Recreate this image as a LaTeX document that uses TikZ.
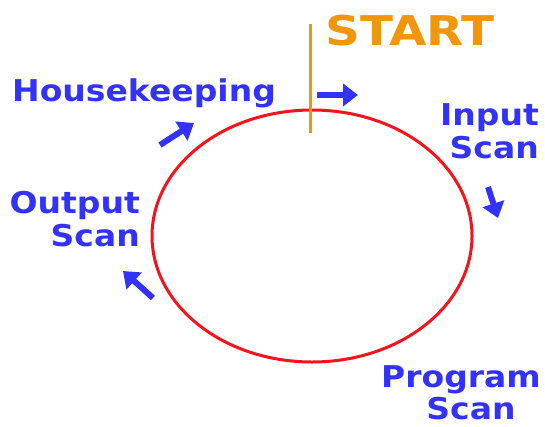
\documentclass[tikz,border=0pt]{standalone}
\usepackage{fontspec}
\setmainfont{DejaVu Sans}[FakeStretch=1.1]
\newfontfamily\startfont{DejaVu Sans}[FakeStretch=1.18]
\usetikzlibrary{arrows.meta,shapes.geometric}
\definecolor{ringred}{RGB}{245,20,30}
\definecolor{startorange}{RGB}{240,150,10}
\definecolor{stepblue}{RGB}{50,50,250}
\begin{document}
\begin{tikzpicture}[x=1pt,y=-1pt,
  phase/.style={font=\fontsize{30}{33}\selectfont\bfseries, text=stepblue, inner sep=0pt},
  flow/.style={draw=stepblue, line width=6pt, line cap=butt,
    -{Triangle[width=22pt,length=15pt]}}]
  \useasboundingbox (0,0) rectangle (545,426);

  % the scan cycle
  \node (cycle) [draw=ringred, line width=3pt, ellipse, minimum width=320pt,
    minimum height=252pt, inner sep=0pt] at (312,236) {};

  % start marker
  \coordinate (mtop) at (310,24);
  \coordinate (mbot) at (310,133);
  \draw[startorange, line width=3pt] (mtop) -- (mbot);
  \node (start) [anchor=base west, inner sep=0pt, text=startorange,
    font=\fontsize{41}{41}\startfont\bfseries] at (325,45) {START};

  % phase labels
  \node (house) [phase, anchor=base west] at (12,101) {Housekeeping};
  \node (input) [phase, align=right, anchor=north east] at (539,103) {Input\\Scan};
  \node (program) [phase, align=center, anchor=north, font=\fontsize{30}{32}\selectfont\bfseries]
    at (461,365) {Program\\\hspace*{20pt}Scan};
  \node (output) [phase, align=right, anchor=north east] at (140,191) {Output\\Scan};

  % direction arrows
  \coordinate (a1s) at (317,95);  \coordinate (a1e) at (358,95);
  \coordinate (a2s) at (488,187); \coordinate (a2e) at (498,218);
  \coordinate (a3s) at (153,298); \coordinate (a3e) at (123,271);
  \coordinate (a4s) at (160,145); \coordinate (a4e) at (194,123);
  \draw[flow] (a1s) -- (a1e);
  \draw[flow] (a2s) -- (a2e);
  \draw[flow] (a3s) -- (a3e);
  \draw[flow] (a4s) -- (a4e);
\end{tikzpicture}
\end{document}
